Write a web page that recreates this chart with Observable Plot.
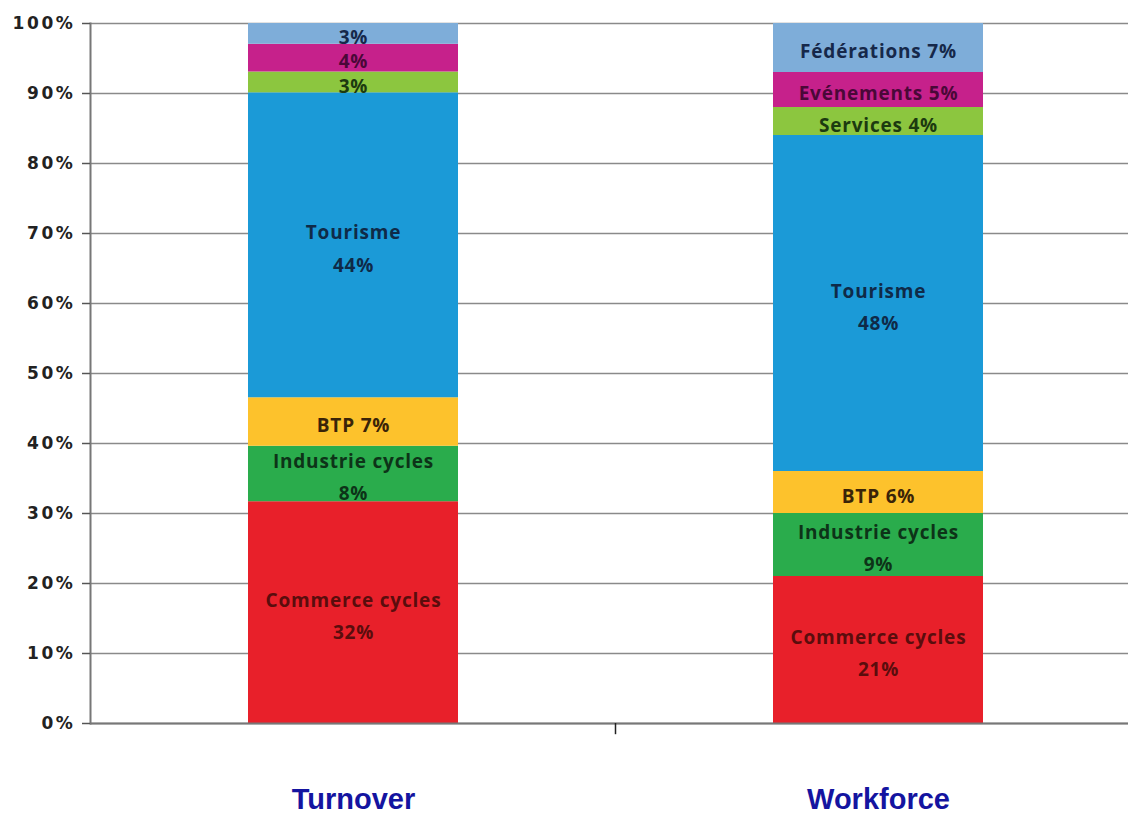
<!DOCTYPE html>
<html>
<head>
<meta charset="utf-8">
<script src="https://cdn.jsdelivr.net/npm/d3@7"></script>
<script src="https://cdn.jsdelivr.net/npm/@observablehq/plot@0.6"></script>
<style>
  html, body { margin: 0; padding: 0; background: #fff; }
  #chart { position: absolute; left: 0; top: 0; }
  #chart svg { overflow: visible; }
  g[aria-label="y-axis tick label"] text { letter-spacing: 2.6px; }
  g.seglabels text { letter-spacing: 0.8px; }
</style>
</head>
<body>
<div id="chart"></div>
<script>
// ---- data ----
const groups = ["Turnover", "Workforce"];
const categories = ["Commerce cycles", "Industrie cycles", "BTP", "Tourisme", "Services", "Evénements", "Fédérations"];
const turnoverValues  = [32, 8, 7, 44, 3, 4, 3];
const workforceValues = [21, 9, 6, 48, 4, 5, 7];
const turnoverLabels  = ["Commerce cycles\n32%", "Industrie cycles\n8%", "BTP 7%", "Tourisme\n44%", "3%", "4%", "3%"];
const workforceLabels = ["Commerce cycles\n21%", "Industrie cycles\n9%", "BTP 6%", "Tourisme\n48%", "Services 4%", "Evénements 5%", "Fédérations 7%"];
const yTicks = [0, 10, 20, 30, 40, 50, 60, 70, 80, 90, 100];

// ---- styles ----
const fillColors = ["#e8202a", "#2aac4c", "#fdc22c", "#1b9ad7", "#8cc63f", "#c6218b", "#7eadd9"];
const textColors = ["#5a0d0d", "#0d3318", "#3a2408", "#0f2a48", "#1c3a10", "#4a0838", "#16284a"];

const fillOf = new Map(categories.map((c, i) => [c, fillColors[i]]));
const textOf = new Map(categories.map((c, i) => [c, textColors[i]]));

const data = [];
categories.forEach((c, i) => data.push({group: "Turnover", cat: c, value: turnoverValues[i], label: turnoverLabels[i]}));
categories.forEach((c, i) => data.push({group: "Workforce", cat: c, value: workforceValues[i], label: workforceLabels[i]}));

const chart = Plot.plot({
  width: 1128,
  height: 813,
  marginLeft: 90,
  marginRight: 0,
  marginTop: 23,
  marginBottom: 90,
  style: {background: "#fff"},
  x: {domain: groups, range: [90, 1140], paddingInner: 0.6, paddingOuter: 0.3, axis: null},
  y: {domain: [0, 1], axis: null},
  color: {type: "identity"},
  marks: [
    Plot.gridY(yTicks.map(d => d / 100), {stroke: "#8a8a8a", strokeOpacity: 1, strokeWidth: 1.5}),
    Plot.barY(data, Plot.stackY({
      x: "group", y: "value", z: "cat", offset: "normalize", order: null,
      fill: d => fillOf.get(d.cat)
    })),
    Plot.text(data, Plot.stackY({
      x: "group", y: "value", z: "cat", offset: "normalize", order: null,
      text: "label", fill: d => textOf.get(d.cat),
      fontSize: 19, fontWeight: "bold", fontFamily: "Open Sans", lineHeight: 1.7,
      className: "seglabels"
    })),
    Plot.ruleY([0], {stroke: "#777", strokeWidth: 2}),
    Plot.frame({anchor: "left", stroke: "#777", strokeWidth: 2}),
    Plot.axisY(yTicks.map(d => d / 100), {
      label: null,
      tickSize: 8, tickPadding: 7, tickFormat: d3.format(".0%"),
      stroke: "#555", strokeWidth: 1.5,
      fontSize: 17, fontWeight: "bold", fontFamily: "DejaVu Sans", fill: "#222"
    }),
    Plot.ruleX(["Turnover"], {x: d => d, y1: 0, y2: -0.016, dx: 262, stroke: "#222", strokeWidth: 1.5}),
    Plot.text(groups, {
      x: d => d, frameAnchor: "bottom", dy: 85, text: d => d,
      fontSize: 29, fontWeight: "bold", fontFamily: "Liberation Sans", fill: "#1414a0"
    })
  ]
});
document.getElementById("chart").appendChild(chart);
</script>
</body>
</html>
